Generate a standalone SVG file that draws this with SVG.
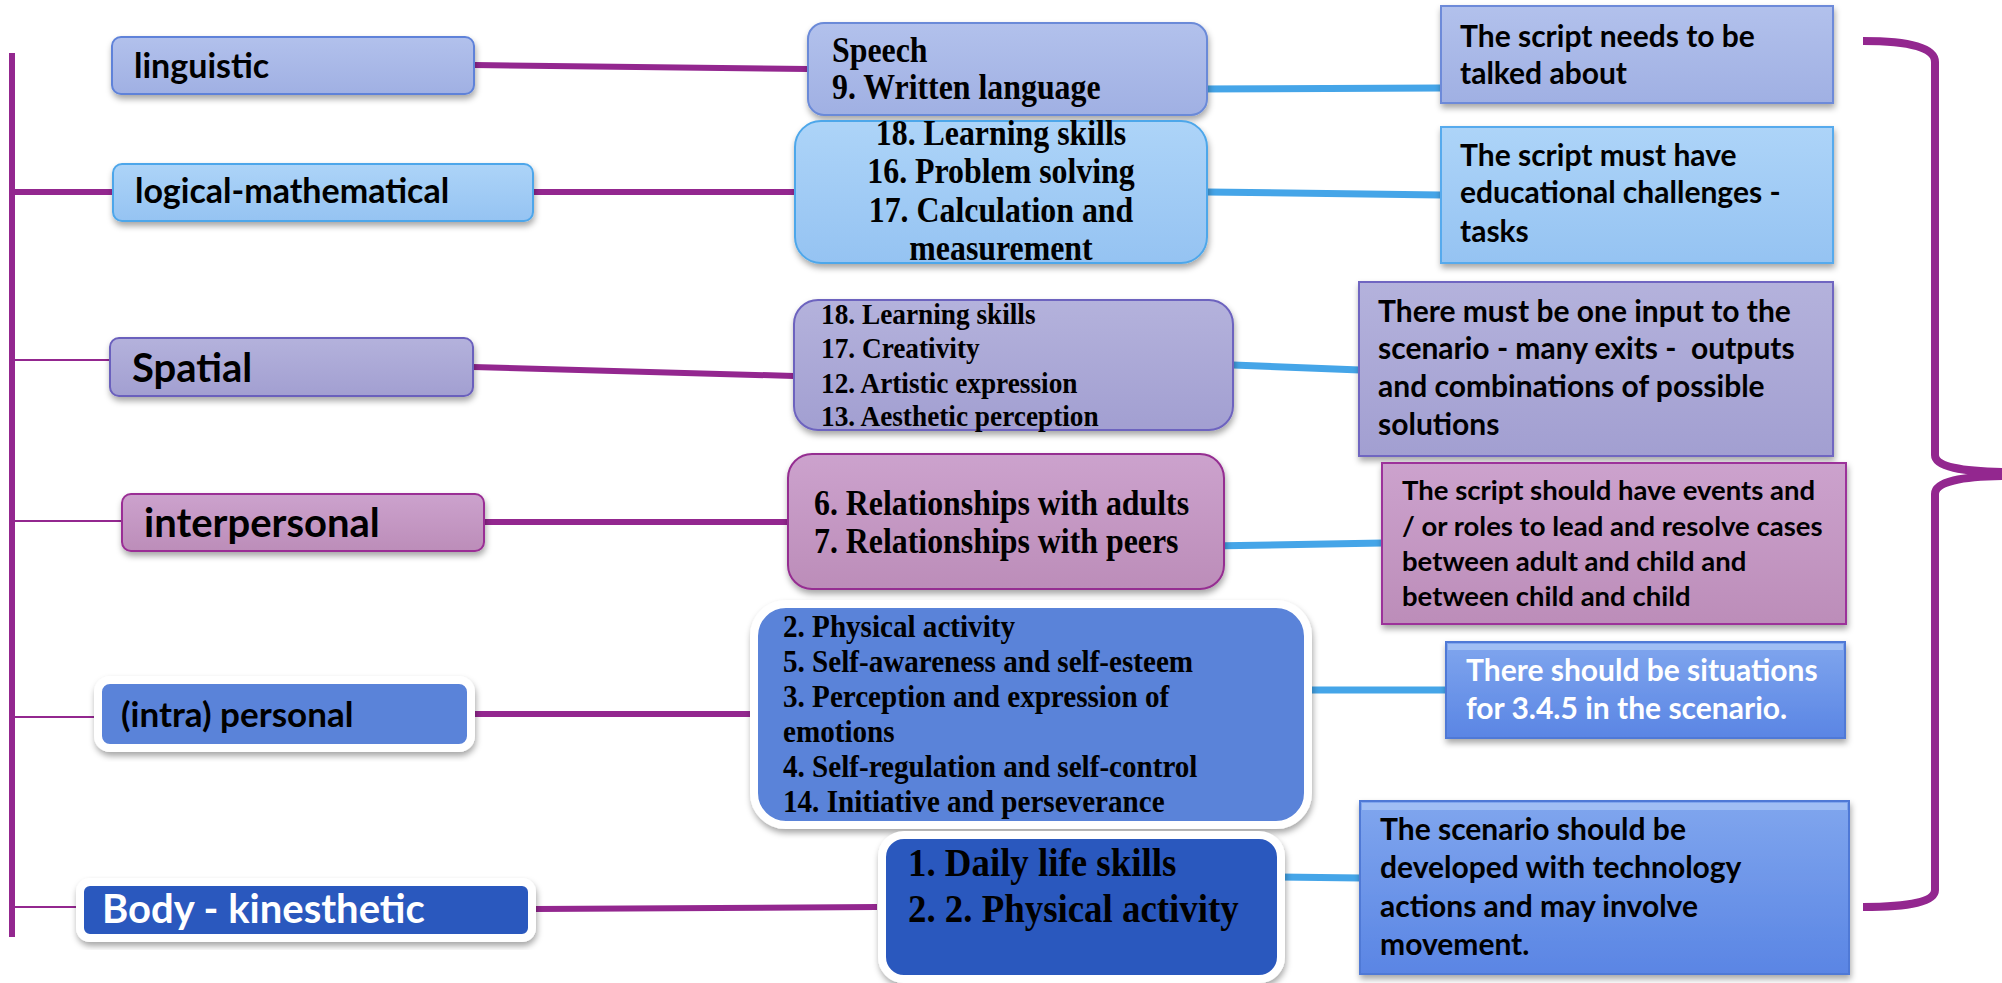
<svg xmlns="http://www.w3.org/2000/svg" width="2002" height="983" viewBox="0 0 2002 983">
<defs>
<style>
.sans{font-family:Lato,"Liberation Sans",sans-serif;font-weight:bold;fill:#000}
.serif{font-family:"Liberation Serif","Times New Roman",serif;font-weight:bold;fill:#000}
.pl{stroke:#93278f;stroke-width:6;fill:none}
.pt{stroke:#93278f;stroke-width:2;fill:none}
.bl{stroke:#45a5e8;stroke-width:7;fill:none}
</style>
<filter id="sh" x="-10%" y="-10%" width="120%" height="130%"><feDropShadow dx="1" dy="4" stdDeviation="3" flood-color="#000" flood-opacity="0.35"/></filter>
<linearGradient id="gLing" x1="0" y1="0" x2="0" y2="1"><stop offset="0" stop-color="#b2c1ec"/><stop offset="1" stop-color="#a0b0e3"/></linearGradient>
<linearGradient id="gLog" x1="0" y1="0" x2="0" y2="1"><stop offset="0" stop-color="#add4f8"/><stop offset="1" stop-color="#95c3f2"/></linearGradient>
<linearGradient id="gSpa" x1="0" y1="0" x2="0" y2="1"><stop offset="0" stop-color="#b4b2dc"/><stop offset="1" stop-color="#a29fd1"/></linearGradient>
<linearGradient id="gInt" x1="0" y1="0" x2="0" y2="1"><stop offset="0" stop-color="#cca2cd"/><stop offset="1" stop-color="#bc8db9"/></linearGradient>
<linearGradient id="gB5" x1="0" y1="0" x2="0" y2="1"><stop offset="0" stop-color="#80a6ee"/><stop offset="1" stop-color="#5a85e4"/></linearGradient>
</defs>
<rect width="2002" height="983" fill="#fff"/>

<g id="connectors">
<line class="pl" x1="12" y1="53" x2="12" y2="937"/>
<line class="pl" x1="12" y1="192" x2="113" y2="192"/>
<line class="pt" x1="12" y1="360" x2="110" y2="360"/>
<line class="pt" x1="12" y1="521" x2="122" y2="521"/>
<line class="pt" x1="12" y1="717" x2="102" y2="717"/>
<line class="pt" x1="12" y1="907" x2="84" y2="907"/>
<line class="pl" x1="474" y1="65" x2="808" y2="69"/>
<line class="pl" x1="533" y1="192" x2="795" y2="192"/>
<line class="pl" x1="473" y1="367" x2="794" y2="376"/>
<line class="pl" x1="484" y1="522" x2="788" y2="522"/>
<line class="pl" x1="472" y1="714" x2="750" y2="714"/>
<line class="pl" x1="536" y1="909" x2="877" y2="907"/>
<line class="bl" x1="1194" y1="89" x2="1441" y2="88"/>
<line class="bl" x1="1207" y1="192" x2="1441" y2="195"/>
<line class="bl" x1="1233" y1="365" x2="1360" y2="370"/>
<line class="bl" x1="1208" y1="546" x2="1383" y2="543"/>
<line class="bl" x1="1310" y1="690" x2="1447" y2="690"/>
<line class="bl" x1="1279" y1="877" x2="1361" y2="878"/>
<path class="pl" style="stroke-width:8" d="M1863,41 Q1935,41 1935,62 L1935,455 Q1935,472 2010,472 M2010,476 Q1935,476 1935,494 L1935,890 Q1935,907 1863,907"/>
</g>

<g id="label-linguistic">
<rect x="112" y="37" width="362" height="57" rx="9" fill="url(#gLing)" stroke="#5f82d9" stroke-width="2" filter="url(#sh)"/>
<text class="sans" x="134" y="78" font-size="34">linguistic</text>
</g>
<g id="label-logical">
<rect x="113" y="164" width="420" height="57" rx="9" fill="url(#gLog)" stroke="#4ea6ea" stroke-width="2" filter="url(#sh)"/>
<text class="sans" x="135" y="203" font-size="34">logical-mathematical</text>
</g>
<g id="label-spatial">
<rect x="110" y="338" width="363" height="58" rx="9" fill="url(#gSpa)" stroke="#6b60bd" stroke-width="2" filter="url(#sh)"/>
<text class="sans" x="132" y="382" font-size="40">Spatial</text>
</g>
<g id="label-interpersonal">
<rect x="122" y="494" width="362" height="57" rx="9" fill="url(#gInt)" stroke="#9a2d95" stroke-width="2" filter="url(#sh)"/>
<text class="sans" x="144" y="537" font-size="40">interpersonal</text>
</g>
<g id="label-intra">
<rect x="98" y="680" width="373" height="68" rx="12" fill="#5a83d9" stroke="#fff" stroke-width="8" filter="url(#sh)"/>
<text class="sans" x="121" y="727" font-size="35">(intra) personal</text>
</g>
<g id="label-body">
<rect x="80" y="882" width="452" height="56" rx="10" fill="#2b58be" stroke="#fff" stroke-width="8" filter="url(#sh)"/>
<text class="sans" x="102" y="923" font-size="40" style="fill:#fff">Body - kinesthetic</text>
</g>

<g id="mid-linguistic">
<rect x="808" y="23" width="399" height="92" rx="16" fill="url(#gLing)" stroke="#6b8ad8" stroke-width="2" filter="url(#sh)"/>
<g transform="translate(832,0) scale(0.91,1) translate(-832,0)">
<text class="serif" x="832" y="62" font-size="35">Speech</text>
<text class="serif" x="832" y="99" font-size="35">9. Written language</text>
</g>
</g>
<g id="mid-logical">
<rect x="795" y="121" width="412" height="142" rx="26" fill="url(#gLog)" stroke="#4ea7ea" stroke-width="2" filter="url(#sh)"/>
<g transform="translate(1001,0) scale(0.91,1) translate(-1001,0)" text-anchor="middle">
<text class="serif" x="1001" y="145" font-size="35">18. Learning skills</text>
<text class="serif" x="1001" y="183" font-size="35">16. Problem solving</text>
<text class="serif" x="1001" y="222" font-size="35">17. Calculation and</text>
<text class="serif" x="1001" y="260" font-size="35">measurement</text>
</g>
</g>
<g id="mid-spatial">
<rect x="794" y="300" width="439" height="130" rx="24" fill="url(#gSpa)" stroke="#6d63bf" stroke-width="2" filter="url(#sh)"/>
<g transform="translate(821,0) scale(0.91,1) translate(-821,0)">
<text class="serif" x="821" y="324" font-size="30">18. Learning skills</text>
<text class="serif" x="821" y="358" font-size="30">17. Creativity</text>
<text class="serif" x="821" y="393" font-size="30">12. Artistic expression</text>
<text class="serif" x="821" y="426" font-size="30">13. Aesthetic perception</text>
</g>
</g>
<g id="mid-interpersonal">
<rect x="788" y="454" width="436" height="135" rx="24" fill="url(#gInt)" stroke="#952d91" stroke-width="2" filter="url(#sh)"/>
<g transform="translate(814,0) scale(0.91,1) translate(-814,0)">
<text class="serif" x="814" y="515" font-size="35">6. Relationships with adults</text>
<text class="serif" x="814" y="553" font-size="35">7. Relationships with peers</text>
</g>
</g>
<g id="mid-intra">
<rect x="754" y="604" width="554" height="221" rx="32" fill="#5a83d9" stroke="#fff" stroke-width="8" filter="url(#sh)"/>
<g transform="translate(783,0) scale(0.91,1) translate(-783,0)">
<text class="serif" x="783" y="637" font-size="32">2. Physical activity</text>
<text class="serif" x="783" y="672" font-size="32">5. Self-awareness and self-esteem</text>
<text class="serif" x="783" y="707" font-size="32">3. Perception and expression of</text>
<text class="serif" x="783" y="742" font-size="32">emotions</text>
<text class="serif" x="783" y="777" font-size="32">4. Self-regulation and self-control</text>
<text class="serif" x="783" y="812" font-size="32">14. Initiative and perseverance</text>
</g>
</g>
<g id="mid-body">
<rect x="882" y="835" width="399" height="144" rx="22" fill="#2b58be" stroke="#fff" stroke-width="8" filter="url(#sh)"/>
<g transform="translate(908,0) scale(0.91,1) translate(-908,0)">
<text class="serif" x="908" y="876" font-size="40.5">1. Daily life skills</text>
<text class="serif" x="908" y="922" font-size="40.5">2. 2. Physical activity</text>
</g>
</g>

<g id="req-linguistic">
<rect x="1441" y="6" width="392" height="97" fill="url(#gLing)" stroke="#6d8ad9" stroke-width="2" filter="url(#sh)"/>
<text class="sans" x="1460" y="47" font-size="30">The script needs to be</text>
<text class="sans" x="1460" y="84" font-size="30">talked about</text>
</g>
<g id="req-logical">
<rect x="1441" y="127" width="392" height="136" fill="url(#gLog)" stroke="#56aaed" stroke-width="2" filter="url(#sh)"/>
<text class="sans" x="1460" y="166" font-size="30">The script must have</text>
<text class="sans" x="1460" y="203" font-size="30">educational challenges -</text>
<text class="sans" x="1460" y="242" font-size="30">tasks</text>
</g>
<g id="req-spatial">
<rect x="1359" y="282" width="474" height="174" fill="url(#gSpa)" stroke="#7066c1" stroke-width="2" filter="url(#sh)"/>
<text class="sans" x="1378" y="322" font-size="30">There must be one input to the</text>
<text class="sans" x="1378" y="359" font-size="30" style="white-space:pre">scenario - many exits -  outputs</text>
<text class="sans" x="1378" y="397" font-size="30">and combinations of possible</text>
<text class="sans" x="1378" y="435" font-size="30">solutions</text>
</g>
<g id="req-interpersonal">
<rect x="1382" y="463" width="464" height="161" fill="url(#gInt)" stroke="#9c329a" stroke-width="2" filter="url(#sh)"/>
<text class="sans" x="1402" y="500" font-size="27.5">The script should have events and</text>
<text class="sans" x="1402" y="536" font-size="27.5">/ or roles to lead and resolve cases</text>
<text class="sans" x="1402" y="571" font-size="27.5">between adult and child and</text>
<text class="sans" x="1402" y="606" font-size="27.5">between child and child</text>
</g>
<g id="req-intra">
<rect x="1446" y="642" width="399" height="96" fill="url(#gB5)" stroke="#4f79d6" stroke-width="2" filter="url(#sh)"/>
<rect x="1448" y="644" width="395" height="6" fill="#a9c4f5" opacity="0.8"/>
<text class="sans" x="1466" y="681" font-size="30" style="fill:#fff">There should be situations</text>
<text class="sans" x="1466" y="719" font-size="30" style="fill:#fff">for 3.4.5 in the scenario.</text>
</g>
<g id="req-body">
<rect x="1360" y="801" width="489" height="173" fill="url(#gB5)" stroke="#4f79d6" stroke-width="2" filter="url(#sh)"/>
<rect x="1362" y="803" width="485" height="7" fill="#a9c4f5" opacity="0.8"/>
<text class="sans" x="1380" y="840" font-size="30">The scenario should be</text>
<text class="sans" x="1380" y="878" font-size="30">developed with technology</text>
<text class="sans" x="1380" y="917" font-size="30">actions and may involve</text>
<text class="sans" x="1380" y="955" font-size="30">movement.</text>
</g>
</svg>
